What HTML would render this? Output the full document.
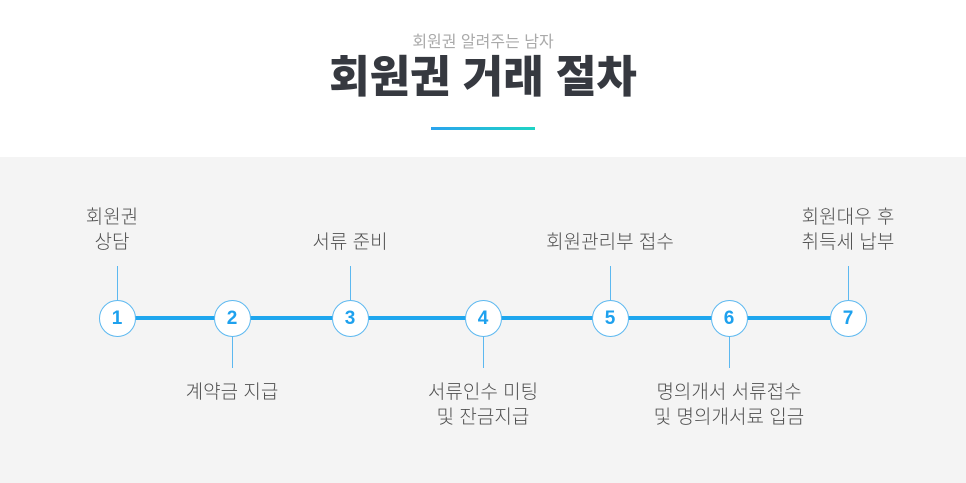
<!DOCTYPE html>
<html><head><meta charset="utf-8"><style>
*{margin:0;padding:0;box-sizing:border-box}
body{width:966px;height:483px;background:#fff;position:relative;overflow:hidden;font-family:"Liberation Sans","Noto Sans CJK KR",sans-serif}
.band{position:absolute;left:0;top:157px;width:966px;height:326px;background:#f4f4f4}
.t{position:absolute;white-space:nowrap;text-align:center;transform:translateX(-50%)}
.lab{font-size:19px;color:#505050;line-height:25px;font-weight:300}
.c{position:absolute;width:37px;height:37px;border-radius:50%;background:#fff;border:1px solid #5cb8f0;margin:-18.5px 0 0 -18.5px;top:318px;text-align:center;line-height:35px;color:#1ea1ee;font-weight:bold;font-size:19px;font-family:"Liberation Sans",sans-serif}
.v{position:absolute;width:1px;background:#5cb8f0}
</style></head><body>
<div class="t" style="left:483px;top:28px;font-size:16px;color:#aaa">회원권 알려주는 남자</div>
<div class="t" style="left:483px;top:51px;font-size:44px;font-weight:900;color:#363940;line-height:54px">회원권 거래 절차</div>
<div style="position:absolute;left:431px;top:127px;width:104px;height:3px;background:linear-gradient(90deg,#2aa3ee,#1ed4c4)"></div>
<div class="band"></div>
<div style="position:absolute;left:117px;top:316px;width:731px;height:4px;background:#1ea6ee"></div>
<div class="v" style="left:117px;top:266px;height:34px"></div>
<div class="v" style="left:350px;top:266px;height:34px"></div>
<div class="v" style="left:610px;top:266px;height:34px"></div>
<div class="v" style="left:848px;top:266px;height:34px"></div>
<div class="v" style="left:232px;top:336px;height:32px"></div>
<div class="v" style="left:483px;top:336px;height:32px"></div>
<div class="v" style="left:729px;top:336px;height:32px"></div>
<div class="c" style="left:117px">1</div>
<div class="c" style="left:232px">2</div>
<div class="c" style="left:350px">3</div>
<div class="c" style="left:483px">4</div>
<div class="c" style="left:610px">5</div>
<div class="c" style="left:729px">6</div>
<div class="c" style="left:848px">7</div>
<div class="t lab" style="left:112px;top:205px">회원권<br>상담</div>
<div class="t lab" style="left:232px;top:380px">계약금 지급</div>
<div class="t lab" style="left:350px;top:230px">서류 준비</div>
<div class="t lab" style="left:483px;top:380px">서류인수 미팅<br>및 잔금지급</div>
<div class="t lab" style="left:610px;top:230px">회원관리부 접수</div>
<div class="t lab" style="left:729px;top:380px">명의개서 서류접수<br>및 명의개서료 입금</div>
<div class="t lab" style="left:848px;top:205px">회원대우 후<br>취득세 납부</div>
</body></html>
